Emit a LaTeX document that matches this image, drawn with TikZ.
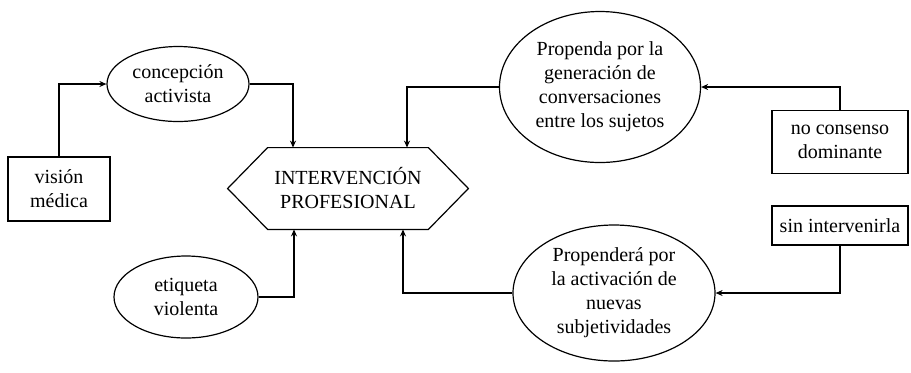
\documentclass[tikz,border=0pt]{standalone}
\usepackage{fontspec}
\setmainfont{Liberation Serif}
\usepackage{tikz}
\usetikzlibrary{shapes.geometric, arrows.meta}

\begin{document}
\begin{tikzpicture}[
  x=0.5pt, y=-0.5pt,
  every node/.style={font=\fontsize{10}{12}\selectfont, align=center, inner sep=0pt},
  oval/.style={ellipse, draw, line width=0.6pt},
  plainbox/.style={rectangle, draw, line width=0.6pt},
  arrow/.style={-{Stealth[length=3.5pt, width=3pt]}, line width=0.6pt}
]
\useasboundingbox (0,0) rectangle (911,372);

% nodes
\node[plainbox, minimum width=51pt, minimum height=32pt] (vision) at (59,189) {visión\\médica};
\node[oval, minimum width=71pt, minimum height=37.5pt] (concep) at (178,84) {concepción\\activista};
\node[minimum width=120pt, minimum height=40.5pt] (hex) at (348,188.5) {INTERVENCIÓN\\PROFESIONAL};
\node[oval, minimum width=72pt, minimum height=41pt] (etiq) at (186,297) {etiqueta\\violenta};
\node[oval, minimum width=100.5pt, minimum height=75.5pt] (prop1) at (600,87)
  {Propenda por la\\generación de\\conversaciones\\entre los sujetos};
\node[oval, minimum width=101pt, minimum height=68pt] (prop2) at (614,293)
  {Propenderá por\\la activación de\\nuevas\\subjetividades};
\node[plainbox, minimum width=68pt, minimum height=31.5pt] (nocons) at (840,142) {no consenso\\dominante};
\node[plainbox, minimum width=68pt, minimum height=19.5pt] (sinint) at (840,225.5) {sin intervenirla};

% hexagon outline
\draw[line width=0.6pt] (hex.west) -- ([xshift=20pt]hex.north west) -- ([xshift=-20pt]hex.north east)
  -- (hex.east) -- ([xshift=-20pt]hex.south east) -- ([xshift=20pt]hex.south west) -- cycle;

% connectors
\draw[arrow] (vision.north) |- (concep.west);
\draw[arrow] (concep.east) -| ([xshift=-27.5pt]hex.north);
\draw[arrow] (prop1.west) -| ([xshift=29.5pt]hex.north);
\draw[arrow] (nocons.north) |- (prop1.east);
\draw[arrow] (etiq.east) -| ([xshift=-27pt]hex.south);
\draw[arrow] (prop2.west) -| ([xshift=27.5pt]hex.south);
\draw[arrow] (sinint.south) |- (prop2.east);

\end{tikzpicture}
\end{document}
